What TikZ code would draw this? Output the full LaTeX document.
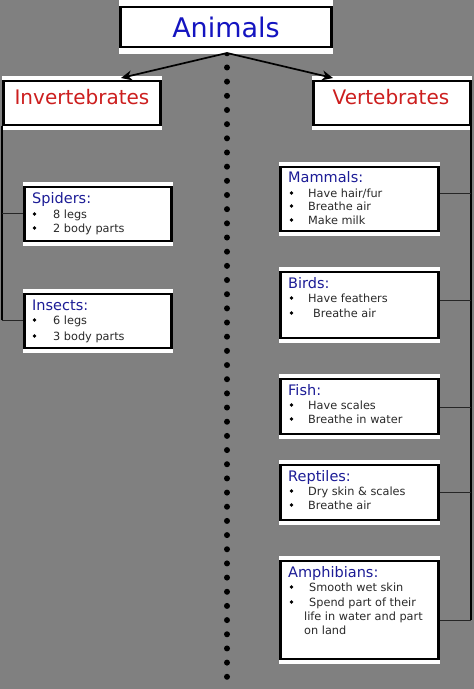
\documentclass[tikz,border=0pt]{standalone}
\usepackage{fontspec}
\setmainfont{DejaVu Sans}
\usetikzlibrary{arrows.meta,fit}
\definecolor{bg}{HTML}{808080}
\definecolor{animblue}{HTML}{1414C0}
\definecolor{catblue}{HTML}{1C1C96}
\definecolor{grpred}{HTML}{CC1E1E}
\definecolor{bodytxt}{HTML}{2A2A2A}
\newcommand\twobox[6]{%
  \fill[white] (#2,#3) rectangle (#4,#5);
  \node[innerbox, fit={(#2+1.5,#3+#6) (#4-1.5,#5-#6)}] (#1) {};
}
\begin{document}
\begin{tikzpicture}[x=1pt,y=-1pt,
  innerbox/.style={draw=black, fill=white, line width=2.2pt, inner sep=0pt},
  bigtitle/.style={font=\fontsize{27}{32}\selectfont, text=animblue, anchor=base},
  grptitle/.style={font=\fontsize{20}{24}\selectfont, text=grpred, anchor=base},
  cattitle/.style={font=\fontsize{14.5}{17}\selectfont, text=catblue, anchor=base west, inner sep=0pt},
  bodyline/.style={font=\fontsize{11.3}{13}\selectfont, text=bodytxt, anchor=base west, inner sep=0pt},
  trunk/.style={draw=black, line width=2pt},
  branch/.style={draw=black!85, line width=1pt},
  arr/.style={draw=black, line width=1.7pt, -{Stealth[length=11pt,width=10pt]}},
]
\fill[bg] (0,0) rectangle (474,689);
\useasboundingbox (0,0) rectangle (474,689);

% dotted divider
\foreach \i in {0,...,44} {\fill[black] (227,{53.3+14.17*\i}) circle (3);}

% boxes
\twobox{animals}{119}{0}{333}{54}{7}
\twobox{invert}{2}{76}{162}{130}{5}
\twobox{vert}{312}{76}{472}{130}{5}
\twobox{spiders}{23}{182}{173}{246}{5}
\twobox{insects}{23}{289}{173}{353}{5}
\twobox{mammals}{279}{162}{440}{236}{5}
\twobox{birds}{279}{267}{440}{343}{5}
\twobox{fish}{279}{374}{440}{439}{5}
\twobox{reptiles}{279}{460}{440}{525}{5}
\twobox{amphib}{279}{556}{440}{664}{5}

% titles
\node[bigtitle] (tanimals) at (226,37) {Animals};
\node[grptitle] (tinvert) at (82,104) {Invertebrates};
\node[grptitle] (tvert) at (391,104) {Vertebrates};

% arrows
\coordinate (top) at (227,53);
\coordinate (la) at (121,78);
\coordinate (ra) at (333,78);
\draw[arr] (top) -- (la);
\draw[arr] (top) -- (ra);

% left connectors
\coordinate (lv) at (1.5,320);
\coordinate (ls) at (1.5,213);
\draw[trunk] (invert.south -| lv) -- (lv);
\draw[branch] (ls) -- (spiders.west |- ls);
\draw[branch] (lv) -- (insects.west |- lv);

% right connectors
\coordinate (rv) at (471,620);
\coordinate (rm) at (471,193);
\coordinate (rb) at (471,300);
\coordinate (rf) at (471,407);
\coordinate (rr) at (471,492);
\draw[trunk] (vert.south -| rv) -- (rv);
\draw[branch] (mammals.east |- rm) -- (rm);
\draw[branch] (birds.east |- rb) -- (rb);
\draw[branch] (fish.east |- rf) -- (rf);
\draw[branch] (reptiles.east |- rr) -- (rr);
\draw[branch] (amphib.east |- rv) -- (rv);

% Spiders
\node[cattitle] (tsp) at (32,203) {Spiders:};
\fill[black] (34.5,214) circle (1.8);
\node[bodyline] (sp1) at (53,218) {8 legs};
\fill[black] (34.5,228) circle (1.8);
\node[bodyline] (sp2) at (53,232) {2 body parts};

% Insects
\node[cattitle] (tin) at (32,310) {Insects:};
\fill[black] (34.5,320) circle (1.8);
\node[bodyline] (in1) at (53,324) {6 legs};
\fill[black] (34.5,336) circle (1.8);
\node[bodyline] (in2) at (53,340) {3 body parts};

% Mammals
\node[cattitle] (tma) at (288,182) {Mammals:};
\fill[black] (291.5,193) circle (1.8);
\node[bodyline] (ma1) at (308,197) {Have hair/fur};
\fill[black] (291.5,206) circle (1.8);
\node[bodyline] (ma2) at (308,210) {Breathe air};
\fill[black] (291.5,220) circle (1.8);
\node[bodyline] (ma3) at (308,224) {Make milk};

% Birds
\node[cattitle] (tbi) at (288,288) {Birds:};
\fill[black] (291.5,298) circle (1.8);
\node[bodyline] (bi1) at (308,302) {Have feathers};
\fill[black] (291.5,313) circle (1.8);
\node[bodyline] (bi2) at (313,317) {Breathe air};

% Fish
\node[cattitle] (tfi) at (288,395) {Fish:};
\fill[black] (291.5,405) circle (1.8);
\node[bodyline] (fi1) at (308,409) {Have scales};
\fill[black] (291.5,419) circle (1.8);
\node[bodyline] (fi2) at (308,423) {Breathe in water};

% Reptiles
\node[cattitle] (tre) at (288,481) {Reptiles:};
\fill[black] (291.5,491) circle (1.8);
\node[bodyline] (re1) at (308,495) {Dry skin \& scales};
\fill[black] (291.5,505) circle (1.8);
\node[bodyline] (re2) at (308,509) {Breathe air};

% Amphibians
\node[cattitle] (tam) at (288,577) {Amphibians:};
\fill[black] (291.5,587) circle (1.8);
\node[bodyline] (am1) at (309,591) {Smooth wet skin};
\fill[black] (291.5,602) circle (1.8);
\node[bodyline] (am2) at (309,606) {Spend part of their};
\node[bodyline] (am3) at (304,620) {life in water and part};
\node[bodyline] (am4) at (304,634) {on land};
\end{tikzpicture}
\end{document}
